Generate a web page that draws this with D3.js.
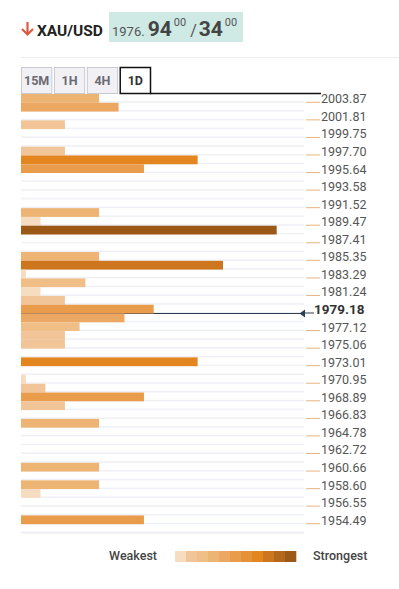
<!DOCTYPE html>
<html>
<head>
<meta charset="utf-8">
<script src="https://cdn.jsdelivr.net/npm/d3@7"></script>
<style>
  html, body { margin: 0; padding: 0; background: #fff; }
  svg { display: block; font-family: Roboto, "Open Sans", sans-serif; }
</style>
</head>
<body>
<div id="chart"></div>
<script>

// price labels on the right, top to bottom
const priceLabels = [
  2003.87, 2001.81, 1999.75, 1997.70, 1995.64, 1993.58, 1991.52, 1989.47,
  1987.41, 1985.35, 1983.29, 1981.24, 1979.18, 1977.12, 1975.06, 1973.01,
  1970.95, 1968.89, 1966.83, 1964.78, 1962.72, 1960.66, 1958.60, 1956.55,
  1954.49
];

const currentPrice = 1979.18;

// confluence strength of each price row, top to bottom (0 = none)
const rowStrength = [
  4, 5, 0, 2.25, 0, 0, 2.25, 9.05, 6.3, 0,
  0, 0, 0, 4, 1, 13.1, 0, 0, 4, 10.35,
  0.25, 3.3, 1, 2.25, 6.8, 5.3, 3, 2.25, 2.25, 0,
  9.05, 0, 0.25, 1.25, 6.3, 2.25, 0, 4, 0, 0,
  0, 0, 4, 0, 4, 1, 0, 0, 6.3, 0
];

const legendColors = [
  '#f6dcc0', '#f1c598', '#f0bf88', '#eeb474', '#eca862', '#ea9c4d',
  '#e69037', '#e3861f', '#cd761d', '#b3681b', '#9b5817'
];

const timeframes = ['15M', '1H', '4H', '1D'];
const activeFrame = '1D';

const width = 399;
const height = 589;

const svg = d3.select('#chart')
  .append('svg')
  .attr('width', width)
  .attr('height', height);

// header
const header = svg.append('g');

header.append('path')
  .attr('d', 'M27.5,22 V34 M22,29 L27.5,34.5 L33,29')
  .attr('fill', 'none')
  .attr('stroke', '#dc5a44')
  .attr('stroke-width', 2.2);

header.append('text')
  .attr('x', 37)
  .attr('y', 36)
  .attr('font-size', 15.5)
  .attr('font-weight', 700)
  .attr('fill', '#222')
  .text('XAU/USD');

header.append('rect')
  .attr('x', 109)
  .attr('y', 12)
  .attr('width', 134)
  .attr('height', 30)
  .attr('fill', '#cfe9e5');

const quote = header.append('text')
  .attr('x', 112)
  .attr('y', 36)
  .attr('fill', '#444');

quote.append('tspan').attr('font-size', 13).attr('fill', '#555').text('1976.');
quote.append('tspan').attr('dx', 3).attr('font-size', 21).attr('font-weight', 700).text('94');
quote.append('tspan').attr('dx', 2).attr('dy', -10).attr('font-size', 11).attr('fill', '#555').text('00');
quote.append('tspan').attr('dx', 4).attr('dy', 10).attr('font-size', 16).attr('fill', '#555').text('/');
quote.append('tspan').attr('dx', 2).attr('font-size', 21).attr('font-weight', 700).text('34');
quote.append('tspan').attr('dx', 2).attr('dy', -10).attr('font-size', 11).attr('fill', '#555').text('00');

svg.append('line')
  .attr('x1', 21)
  .attr('x2', width)
  .attr('y1', 57.5)
  .attr('y2', 57.5)
  .attr('stroke', '#eeeeee');

// tabs
const tabX = d3.scaleBand()
  .domain(timeframes)
  .range([21, 150])
  .paddingInner(0.08);

const tabs = svg.append('g')
  .selectAll('g')
  .data(timeframes)
  .join('g');

tabs.append('rect')
  .attr('x', d => tabX(d) + 0.5)
  .attr('y', 67.5)
  .attr('width', tabX.bandwidth())
  .attr('height', 26)
  .attr('fill', d => d === activeFrame ? '#fff' : '#f1f1f5')
  .attr('stroke', d => d === activeFrame ? '#111' : '#c9c9d1')
  .attr('stroke-width', d => d === activeFrame ? 1.5 : 1);

tabs.append('text')
  .attr('x', d => tabX(d) + tabX.bandwidth() / 2 + 0.5)
  .attr('y', 85)
  .attr('text-anchor', 'middle')
  .attr('font-size', 12.5)
  .attr('font-weight', 700)
  .attr('fill', d => d === activeFrame ? '#333' : '#6a6a72')
  .text(d => d);

svg.append('line')
  .attr('x1', tabX(activeFrame) + tabX.bandwidth())
  .attr('x2', 321)
  .attr('y1', 93.5)
  .attr('y2', 93.5)
  .attr('stroke', '#111')
  .attr('stroke-width', 1.5);

// scales
const rowStep = (priceLabels[0] - priceLabels[priceLabels.length - 1]) / ((priceLabels.length - 1) * 2);
const topPrice = priceLabels[0] + rowStep;
const bottomPrice = priceLabels[priceLabels.length - 1] - rowStep;

const yTop = 94;
const yBottom = 533;

const y = d3.scaleLinear()
  .domain([bottomPrice, topPrice])
  .range([yBottom, yTop]);

const rowY = d3.scaleBand()
  .domain(d3.range(rowStrength.length))
  .range([yTop, yBottom]);

const x = d3.scaleLinear()
  .domain([0, 14.5])
  .range([21, 304]);

const color = d3.scaleQuantize()
  .domain([0, 13.1])
  .range(legendColors);

// row stripes
svg.append('g')
  .selectAll('rect')
  .data(rowStrength)
  .join('rect')
  .attr('x', 21)
  .attr('y', (d, i) => rowY(i) + rowY.bandwidth() - 1.5)
  .attr('width', 283)
  .attr('height', 1.5)
  .attr('fill', '#eef0f5');

// current price line
const yCur = y(currentPrice);

svg.append('line')
  .attr('x1', 21)
  .attr('x2', 302)
  .attr('y1', yCur)
  .attr('y2', yCur)
  .attr('stroke', '#2d3e50')
  .attr('stroke-width', 1);

// bars
svg.append('g')
  .selectAll('rect')
  .data(rowStrength.map((v, i) => ({ row: i, value: v })).filter(d => d.value > 0))
  .join('rect')
  .attr('x', x(0))
  .attr('y', d => rowY(d.row))
  .attr('width', d => x(d.value) - x(0))
  .attr('height', rowY.bandwidth())
  .attr('fill', d => color(d.value));

svg.append('path')
  .attr('d', `M299.5,${yCur} L305,${yCur - 4} L305,${yCur + 4} Z`)
  .attr('fill', '#2d3e50');

// price axis
const labels = svg.append('g')
  .selectAll('g')
  .data(priceLabels)
  .join('g')
  .attr('transform', d => `translate(0,${y(d)})`);

labels.append('line')
  .attr('x1', d => d === currentPrice ? 305 : 306)
  .attr('x2', d => d === currentPrice ? 314 : 320)
  .attr('y1', -0.5)
  .attr('y2', -0.5)
  .attr('stroke', d => d === currentPrice ? '#2d3e50' : '#e7b47e')
  .attr('stroke-width', 1);

labels.append('text')
  .attr('x', d => d === currentPrice ? 314 : 321)
  .attr('y', 0.5)
  .attr('font-size', d => d === currentPrice ? 13.5 : 12.5)
  .attr('font-weight', d => d === currentPrice ? 700 : 400)
  .attr('fill', d => d === currentPrice ? '#333' : '#555')
  .text(d => d.toFixed(2));

// bottom border
svg.append('line')
  .attr('x1', 21)
  .attr('x2', 304)
  .attr('y1', yBottom + 0.5)
  .attr('y2', yBottom + 0.5)
  .attr('stroke', '#f3f3f3');

// legend
const legendX = d3.scaleBand()
  .domain(d3.range(legendColors.length))
  .range([175, 296]);

svg.append('text')
  .attr('x', 157)
  .attr('y', 560)
  .attr('text-anchor', 'end')
  .attr('font-size', 12.5)
  .attr('font-weight', 500)
  .attr('fill', '#444')
  .text('Weakest');

svg.append('g')
  .selectAll('rect')
  .data(legendColors)
  .join('rect')
  .attr('x', (d, i) => legendX(i))
  .attr('y', 551)
  .attr('width', legendX.bandwidth() + 0.3)
  .attr('height', 11)
  .attr('fill', d => d);

svg.append('text')
  .attr('x', 313)
  .attr('y', 560)
  .attr('font-size', 12.5)
  .attr('font-weight', 500)
  .attr('fill', '#444')
  .text('Strongest');

</script>
</body>
</html>
